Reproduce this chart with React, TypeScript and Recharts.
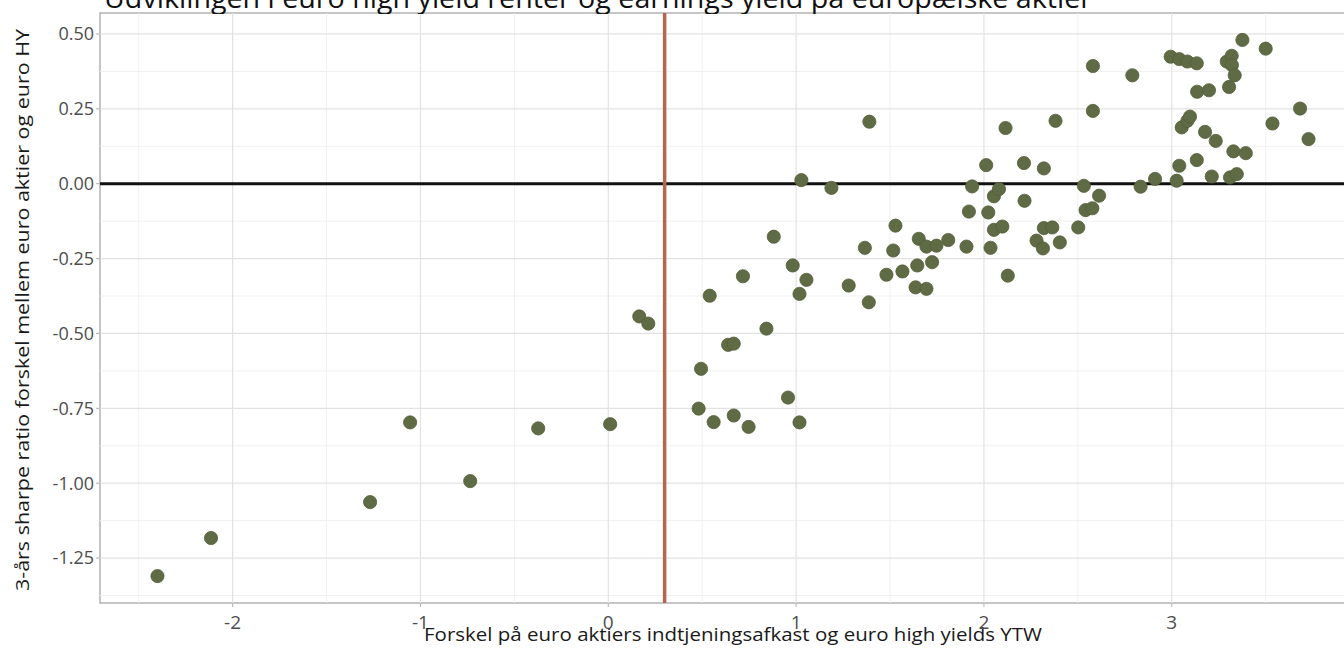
import {
  CartesianGrid,
  Label,
  ReferenceArea,
  ReferenceLine,
  Scatter,
  ScatterChart,
  XAxis,
  YAxis,
} from "recharts"

// earnings yield minus HY yield-to-worst (x) vs 3y sharpe difference (y)
const spreadX = [
  -2.4, -2.115, -1.268, -1.055, -0.735, -0.373, 0.01, 0.165, 0.213, 0.481,
  0.494, 0.54, 0.561, 0.638, 0.668, 0.668, 0.717, 0.747, 0.842, 0.881,
  0.957, 0.982, 1.018, 1.018, 1.028, 1.055, 1.188, 1.28, 1.366, 1.387,
  1.39, 1.481, 1.517, 1.529, 1.566, 1.636, 1.645, 1.653, 1.694, 1.694,
  1.724, 1.747, 1.81, 1.907, 1.92, 1.937, 2.012, 2.023, 2.035, 2.053,
  2.053, 2.08, 2.098, 2.115, 2.127, 2.213, 2.216, 2.28, 2.314, 2.319,
  2.319, 2.364, 2.381, 2.404, 2.502, 2.532, 2.541, 2.577, 2.58, 2.58,
  2.613, 2.79, 2.834, 2.911, 2.994, 3.026, 3.04, 3.04, 3.053, 3.083,
  3.083, 3.097, 3.133, 3.133, 3.135, 3.177, 3.198, 3.213, 3.234, 3.293,
  3.305, 3.31, 3.319, 3.32, 3.328, 3.335, 3.346, 3.376, 3.394, 3.5,
  3.536, 3.683, 3.728,
]

const sharpeDiff = [
  -1.31, -1.183, -1.063, -0.797, -0.993, -0.817, -0.803, -0.443, -0.467, -0.751,
  -0.618, -0.374, -0.796, -0.538, -0.534, -0.774, -0.309, -0.812, -0.484, -0.177,
  -0.714, -0.273, -0.368, -0.797, 0.012, -0.321, -0.014, -0.34, -0.214, -0.396,
  0.207, -0.304, -0.223, -0.14, -0.293, -0.346, -0.273, -0.184, -0.21, -0.351,
  -0.262, -0.207, -0.188, -0.21, -0.093, -0.009, 0.062, -0.096, -0.214, -0.042,
  -0.154, -0.018, -0.143, 0.186, -0.307, 0.069, -0.057, -0.19, -0.216, 0.051,
  -0.148, -0.146, 0.21, -0.196, -0.146, -0.007, -0.088, -0.082, 0.393, 0.243,
  -0.04, 0.362, -0.01, 0.016, 0.424, 0.01, 0.416, 0.06, 0.188, 0.408,
  0.21, 0.224, 0.402, 0.079, 0.307, 0.173, 0.312, 0.024, 0.143, 0.408,
  0.323, 0.021, 0.427, 0.396, 0.108, 0.362, 0.032, 0.48, 0.102, 0.451,
  0.201, 0.251, 0.149,
]

const xTicks = [-2, -1, 0, 1, 2, 3]
const xMinor = [-2.5, -1.5, -0.5, 0.5, 1.5, 2.5, 3.5]
const yTicks = [-1.25, -1, -0.75, -0.5, -0.25, 0, 0.25, 0.5]
const yMinor = [-1.375, -1.125, -0.875, -0.625, -0.375, -0.125, 0.125, 0.375]
const threshold = 0.3

const xDomain = [-2.706, 4.034]
const yDomain = [-1.4, 0.57]

const points = spreadX.map((x, i) => ({ x, y: sharpeDiff[i] }))

const font = "'Open Sans', 'DejaVu Sans', sans-serif"

function Dot(props: any) {
  const { cx, cy } = props
  return <circle cx={cx} cy={cy} r={6.6} fill="#5f6b44" stroke="#545e3b" strokeWidth={0.8} />
}

export default function App() {
  return (
    <div
      style={{
        position: "absolute",
        left: 0,
        top: 0,
        width: 1344,
        height: 648,
        overflow: "hidden",
        background: "#fff",
      }}
    >
      <div style={{ position: "absolute", left: 0, top: 0 }}>
        <ScatterChart width={1366} height={648} margin={{ top: 13, right: 0, bottom: 0, left: 0 }}>
          <CartesianGrid stroke="none" />
          {xMinor.map((v) => (
            <ReferenceLine key={"xm" + v} x={v} stroke="#f0f0f0" strokeWidth={1} />
          ))}
          {yMinor.map((v) => (
            <ReferenceLine key={"ym" + v} y={v} stroke="#f0f0f0" strokeWidth={1} />
          ))}
          {xTicks.map((v) => (
            <ReferenceLine key={"xM" + v} x={v} stroke="#e2e2e2" strokeWidth={1.2} />
          ))}
          {yTicks.map((v) => (
            <ReferenceLine key={"yM" + v} y={v} stroke="#e2e2e2" strokeWidth={1.2} />
          ))}
          <XAxis
            type="number"
            dataKey="x"
            domain={xDomain}
            ticks={xTicks}
            allowDataOverflow
            height={45}
            axisLine={false}
            tickSize={4}
            tickMargin={9}
            tickLine={{ stroke: "#b3b3b3" }}
            tick={{ fill: "#4d4d4d", fontSize: 19, fontFamily: font }}
            tickFormatter={(v: number) => String(v)}
          >
            <Label
              content={(p: any) => {
                const vb = p.viewBox || { x: 100, y: 603, width: 1266 }
                return (
                  <text
                    x={424}
                    y={vb.y + 38}
                    textLength={618}
                    lengthAdjust="spacingAndGlyphs"
                    fill="#1a1a1a"
                    fontSize={19}
                    fontFamily={font}
                  >
                    Forskel på euro aktiers indtjeningsafkast og euro high yields YTW
                  </text>
                )
              }}
            />
          </XAxis>
          <YAxis
            type="number"
            dataKey="y"
            domain={yDomain}
            ticks={yTicks}
            allowDataOverflow
            width={100}
            axisLine={false}
            tickSize={4}
            tickLine={{ stroke: "#b3b3b3" }}
            tick={{ fill: "#4d4d4d", fontSize: 18, fontFamily: font }}
            tickFormatter={(v: number) => v.toFixed(2)}
          >
            <Label
              content={(p: any) => {
                const vb = p.viewBox || { x: 0, y: 13, height: 590 }
                const cy = vb.y + vb.height / 2 + 2
                return (
                  <text
                    x={29}
                    y={cy}
                    transform={`rotate(-90 29 ${cy})`}
                    textAnchor="middle"
                    textLength={562}
                    lengthAdjust="spacingAndGlyphs"
                    fill="#1a1a1a"
                    fontSize={19}
                    fontFamily={font}
                  >
                    3-års sharpe ratio forskel mellem euro aktier og euro HY
                  </text>
                )
              }}
            />
          </YAxis>
          <ReferenceArea
            x1={xDomain[0]}
            x2={xDomain[1]}
            y1={yDomain[0]}
            y2={yDomain[1]}
            fill="none"
            stroke="#b3b3b3"
            strokeWidth={1.5}
          />
          <ReferenceLine y={0} stroke="#111" strokeWidth={3} />
          <ReferenceLine x={threshold} stroke="#b5674c" strokeWidth={3.5} />
          <Scatter data={points} shape={<Dot />} isAnimationActive={false} />
        </ScatterChart>
      </div>
      <svg
        width={1344}
        height={14}
        style={{ position: "absolute", left: 0, top: 0, overflow: "hidden" }}
      >
        <text
          x={104}
          y={8}
          fontSize={28}
          fontFamily={font}
          fill="#111"
          textLength={988}
          lengthAdjust="spacingAndGlyphs"
        >
          Udviklingen i euro high yield renter og earnings yield på europæiske aktier
        </text>
      </svg>
    </div>
  )
}
